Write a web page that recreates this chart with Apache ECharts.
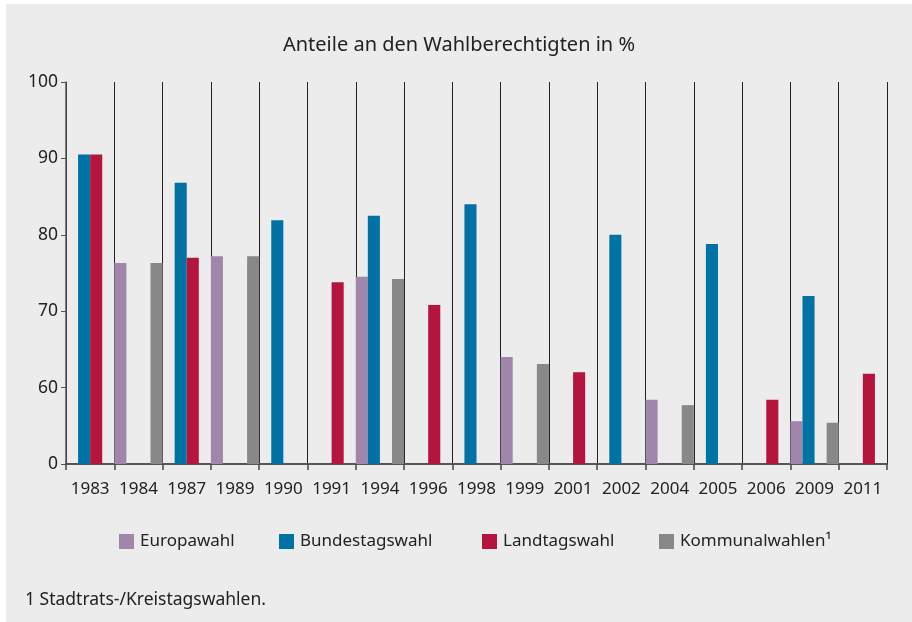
<!DOCTYPE html>
<html>
<head>
<meta charset="utf-8">
<script src="https://cdn.jsdelivr.net/npm/echarts@6/dist/echarts.min.js"></script>
<style>
html,body{margin:0;padding:0;background:#ffffff;}
#chart{position:absolute;left:6px;top:4px;width:906px;height:618px;}
</style>
</head>
<body>
<div id="chart"></div>
<script>
const years = ['1983','1984','1987','1989','1990','1991','1994','1996','1998','1999','2001','2002','2004','2005','2006','2009','2011'];
const europawahl =       [null, 76.3, null, 77.2, null, null, 74.5, null, null, 64.0, null, null, 58.4, null, null, 55.6, null];
const bundestagswahl =   [90.5, null, 86.8, null, 81.9, null, 82.5, null, 84.0, null, null, 80.0, null, 78.8, null, 72.0, null];
const landtagswahl =     [90.5, null, 77.0, null, null, 73.8, null, 70.8, null, null, 62.0, null, null, null, 58.4, null, 61.8];
const kommunalwahlen =   [null, 76.3, null, 77.2, null, null, 74.2, null, null, 63.1, null, null, 57.7, null, null, 55.4, null];
const seriesNames = ['Europawahl','Bundestagswahl','Landtagswahl','Kommunalwahlen\u00B9'];
const colors = ['#a086aa','#0072a3','#b4143e','#888888'];
const yAxisMin = 50, yAxisMax = 100, yAxisStep = 10;

const FONT = '"Noto Sans", "Open Sans", sans-serif';
const chart = echarts.init(document.getElementById('chart'));
const dataSets = [europawahl, bundestagswahl, landtagswahl, kommunalwahlen];
const legendLefts = [113, 273, 476, 653];

chart.setOption({
  backgroundColor: '#ebeceb',
  animation: false,
  textStyle: { fontFamily: FONT },
  title: {
    text: 'Anteile an den Wahlberechtigten in %',
    left: 'center', top: 26,
    textStyle: { fontFamily: FONT, fontSize: 20, fontWeight: 'normal', color: '#222' }
  },
  legend: seriesNames.map((n, i) => ({
    data: [n], left: legendLefts[i], top: 529, padding: 0,
    itemWidth: 15, itemHeight: 15, itemGap: 0,
    icon: 'rect',
    textStyle: { fontFamily: FONT, fontSize: 17, color: '#222', padding: [0, 0, 0, 1] }
  })),
  graphic: [{
    type: 'text', left: 19, top: 587,
    style: { text: '1 Stadtrats-/Kreistagswahlen.', fontFamily: FONT, fontSize: 17.5, fill: '#222' }
  }],
  grid: { left: 60, right: 25, top: 78, bottom: 158 },
  xAxis: {
    type: 'category',
    data: years,
    boundaryGap: true,
    axisLine: { show: true, lineStyle: { color: '#555', width: 2 } },
    axisTick: { show: true, interval: 0, length: 6, lineStyle: { color: '#444', width: 1.5 } },
    axisLabel: { interval: 0, hideOverlap: false, fontFamily: FONT, fontSize: 17, color: '#222', margin: 17 },
    splitLine: { show: true, interval: 0, lineStyle: { color: '#222', width: 1 } }
  },
  yAxis: {
    type: 'value',
    min: yAxisMin, max: yAxisMax, interval: yAxisStep,
    axisLine: { show: true, lineStyle: { color: '#555', width: 1.5 } },
    axisTick: { show: true, length: 5, lineStyle: { color: '#555' } },
    axisLabel: { fontFamily: FONT, fontSize: 17.5, color: '#222', margin: 8,
      formatter: v => (v === yAxisMin ? '0' : String(v)) },
    splitLine: { show: false }
  },
  series: dataSets.map((d, i) => ({
    name: seriesNames[i],
    type: 'bar',
    data: d,
    itemStyle: { color: colors[i] },
    barGap: '0%',
    barCategoryGap: '0%'
  }))
});
</script>
</body>
</html>
